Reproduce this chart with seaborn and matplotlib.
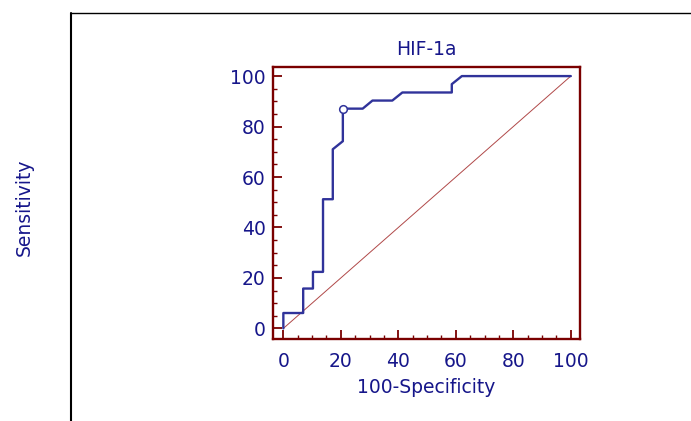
import matplotlib
matplotlib.use("Agg")
import matplotlib.pyplot as plt
from matplotlib.lines import Line2D
from matplotlib.ticker import MultipleLocator
import seaborn as sns
import pandas as pd

# ROC curve coordinates for HIF-1a (100-Specificity vs Sensitivity, in %)
fpr = [0, 0, 6.9, 6.9, 10.3, 10.3, 13.8, 13.8, 17.2, 17.2, 20.7, 20.7,
       27.6, 31.0, 37.9, 41.4, 58.6, 58.6, 62.1, 100]
tpr = [0, 6.1, 6.1, 15.8, 15.8, 22.4, 22.4, 51.2, 51.2, 71.0, 74.2, 87.1,
       87.1, 90.3, 90.3, 93.5, 93.5, 96.8, 100, 100]

# Optimal cut-off point
cut_x = [20.7]
cut_y = [87.1]

# Reference (chance) line
diag_x = [0, 100]
diag_y = [0, 100]

title = "HIF-1a"
xlabel = "100-Specificity"
ylabel = "Sensitivity"
ticks = [0, 20, 40, 60, 80, 100]

sns.set_style("white")
plt.rcParams["font.family"] = ["DejaVu Sans"]

text_color = "#16168a"
curve_color = "#30339a"
frame_color = "#7a0000"
fs = 13.5

W, H = 691, 421
fig = plt.figure(figsize=(W / 100, H / 100), dpi=100)
ax = fig.add_axes([273 / W, 1 - 338.5 / H, 307 / W, 272 / H])

roc = pd.DataFrame({"fpr": fpr, "tpr": tpr})
sns.lineplot(x=diag_x, y=diag_y, ax=ax, color="#b04848", linewidth=0.7,
             estimator=None, sort=False)
sns.lineplot(data=roc, x="fpr", y="tpr", ax=ax, color=curve_color,
             linewidth=1.7, estimator=None, sort=False)
ax.plot(cut_x, cut_y, marker="o", markersize=5.5, markerfacecolor="white",
        markeredgecolor=curve_color, markeredgewidth=1.1, linestyle="none",
        zorder=5)

ax.set_xlim(-3.6, 103.2)
ax.set_ylim(-4.0, 103.8)
ax.set_xticks(ticks)
ax.set_yticks(ticks)
ax.xaxis.set_minor_locator(MultipleLocator(5))
ax.yaxis.set_minor_locator(MultipleLocator(5))
ax.tick_params(which="major", direction="in", length=6.5, width=1.3,
               color=frame_color, labelcolor=text_color, labelsize=fs,
               left=True, bottom=True)
ax.tick_params(axis="x", which="major", pad=9.5)
ax.tick_params(axis="y", which="major", pad=5.4)
ax.tick_params(which="minor", direction="in", length=3.2, width=1.0,
               color=frame_color, left=True, bottom=True)

for s in ax.spines.values():
    s.set_color(frame_color)
    s.set_linewidth(1.7)

ax.set_title(title, color=text_color, fontsize=fs, pad=8)
ax.set_xlabel(xlabel, color=text_color, fontsize=fs)
ax.xaxis.set_label_coords(0.5, -0.145)
ax.set_ylabel("")
fig.text(24 / W, 1 - 207 / H, ylabel, rotation=90, color=text_color,
         fontsize=fs, ha="center", va="center")

# Outer frame lines
fig.add_artist(Line2D([71 / W, 71 / W], [0, 1 - 13 / H],
                      color="black", linewidth=1.5))
fig.add_artist(Line2D([71 / W, 1], [1 - 13 / H, 1 - 13 / H],
                      color="black", linewidth=1.0))

fig.savefig("out.png", dpi=100)
